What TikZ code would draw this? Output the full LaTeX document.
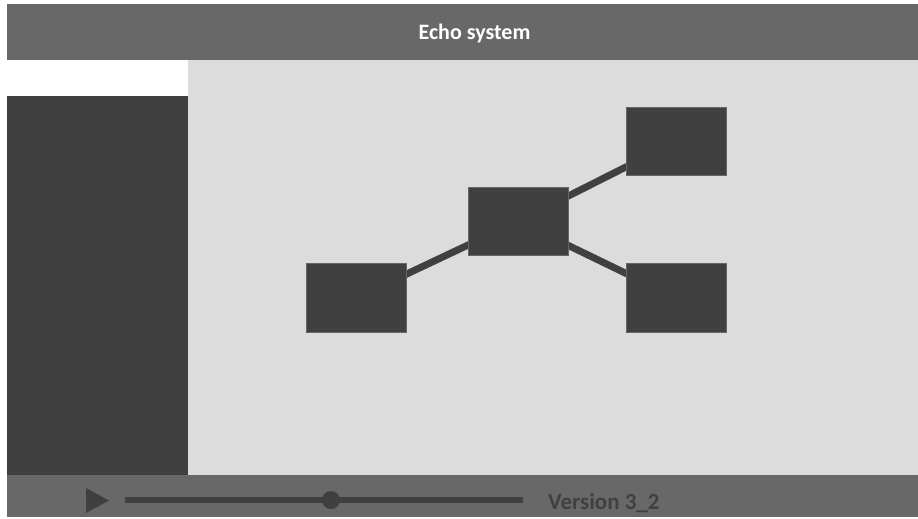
\documentclass[tikz,border=0pt]{standalone}
\usepackage{fontspec}
\setmainfont{Carlito}
\pgfdeclarelayer{bg}
\pgfdeclarelayer{links}
\pgfsetlayers{bg,links,main}
\definecolor{bar}{HTML}{686868}
\definecolor{dark}{HTML}{404040}
\definecolor{canvas}{HTML}{DCDCDC}
\definecolor{edge}{HTML}{666666}
\tikzset{
  box/.style={rectangle, fill=dark, draw=edge, line width=0.6pt, inner sep=0pt,
    minimum width=99.3pt, minimum height=68.3pt},
  link/.style={draw=dark, line width=7pt},
  slider/.style={draw=dark, line width=6pt},
  knob/.style={circle, fill=dark, inner sep=0pt, minimum size=18pt},
  titletext/.style={text=white, font=\fontsize{22}{26}\selectfont\bfseries, inner sep=0pt},
  vertext/.style={text=dark, font=\fontsize{23}{27}\selectfont\bfseries, inner sep=0pt},
}
\begin{document}
\begin{tikzpicture}[x=1pt,y=-1pt]
\useasboundingbox (0,0) rectangle (918,519);
\begin{pgfonlayer}{bg}
  \fill[white] (0,0) rectangle (918,519);
  \fill[bar] (7,4) rectangle (918,60);
  \fill[canvas] (188,60) rectangle (918,475);
  \fill[dark] (7,96) rectangle (188,475);
  \fill[bar] (7,475) rectangle (918,517);
\end{pgfonlayer}
\node[titletext, anchor=base] (title) at (474.5,40) {Echo system};
% diagram
\node[box] (left) at (356.2,297.9) {};
\node[box] (mid) at (518.4,221.2) {};
\node[box] (tr) at (676.4,141.5) {};
\node[box] (br) at (676.4,297.9) {};
\begin{pgfonlayer}{links}
  \draw[link] (left.center) -- (mid.center);
  \draw[link] (mid.center) -- (tr.center);
  \draw[link] (mid.center) -- (br.center);
\end{pgfonlayer}
% player bar
\fill[dark] (86,488) -- (86,513) -- (109,500.5) -- cycle;
\coordinate (s0) at (125,500);
\coordinate (s1) at (523,500);
\draw[slider] (s0) -- (s1);
\node[knob] (knob) at (331,500) {};
\node[vertext, anchor=base west] (ver) at (548,509) {Version 3\_2};
\end{tikzpicture}
\end{document}
